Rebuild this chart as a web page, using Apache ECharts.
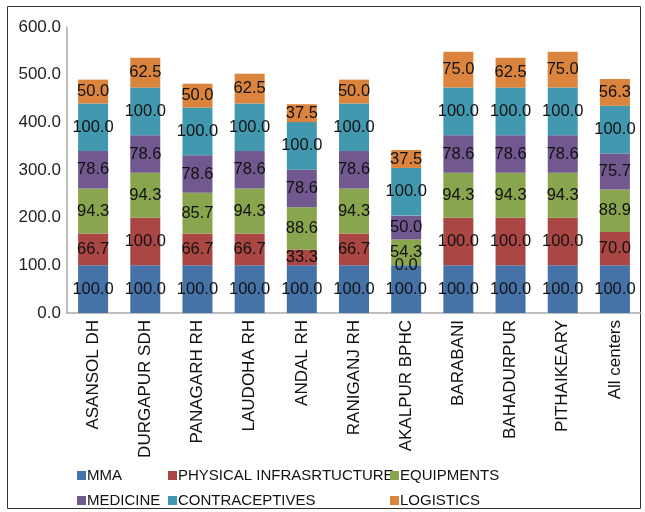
<!DOCTYPE html>
<html><head><meta charset="utf-8">
<script src="https://cdn.jsdelivr.net/npm/echarts@6/dist/echarts.min.js"></script>
<style>html,body{margin:0;padding:0;background:#fff}#c{width:645px;height:512px}</style>
</head><body><div id="c"></div>
<script>
const categories = ['ASANSOL DH','DURGAPUR SDH','PANAGARH RH','LAUDOHA RH','ANDAL RH','RANIGANJ RH','AKALPUR BPHC','BARABANI','BAHADURPUR','PITHAIKEARY','All centers'];
const mma = [100,100,100,100,100,100,100,100,100,100,100];
const physical = [66.7,100,66.7,66.7,33.3,66.7,0,100,100,100,70.0];
const equipments = [94.3,94.3,85.7,94.3,88.6,94.3,54.3,94.3,94.3,94.3,88.9];
const medicine = [78.6,78.6,78.6,78.6,78.6,78.6,50.0,78.6,78.6,78.6,75.7];
const contraceptives = [100,100,100,100,100,100,100,100,100,100,100];
const logistics = [50,62.5,50,62.5,37.5,50,37.5,75,62.5,75,56.3];
const yTicks = [0,100,200,300,400,500,600];

const names = ['MMA','PHYSICAL INFRASRTUCTURE','EQUIPMENTS','MEDICINE','CONTRACEPTIVES','LOGISTICS'];
const dataSets = [mma, physical, equipments, medicine, contraceptives, logistics];
const colors = ['#4572A7','#AA4643','#89A54E','#71588F','#4198AF','#DB843D'];
const font = 'Liberation Sans, Arial, sans-serif';
const legendPos = [[72,463],[163,463],[385,463],[72,488],[163,488],[385,488]];

const chart = echarts.init(document.getElementById('c'));
chart.setOption({
  animation:false,
  color: colors,
  graphic:[{type:'rect', shape:{x:7.5,y:6.5,width:633,height:502}, style:{fill:'none', stroke:'#333', lineWidth:1}, silent:true}],
  grid:{left:67, right:4, top:27, bottom:199, containLabel:false},
  legend: names.map((n,i)=>({
    left:legendPos[i][0], top:legendPos[i][1], data:[n], itemWidth:9, itemHeight:9, icon:'rect',
    textStyle:{fontFamily:font, fontSize:15, color:'#111', padding:[0,0,0,-4]}
  })),
  xAxis:{type:'category', data:categories,
    axisLine:{lineStyle:{color:'#aaa', width:1.5}}, axisTick:{show:false},
    axisLabel:{rotate:90, interval:0, margin:7, fontFamily:font, fontSize:17, color:'#111'}},
  yAxis:{type:'value', min:yTicks[0], max:yTicks[yTicks.length-1], interval:100,
    axisLine:{show:true, lineStyle:{color:'#aaa', width:1.5}}, axisTick:{show:false}, splitLine:{show:false},
    axisLabel:{fontFamily:font, fontSize:17, color:'#222', margin:6, formatter:v=>v.toFixed(1)}},
  series: names.map((n,i)=>({
    name:n, type:'bar', stack:'total', barWidth:30, data:dataSets[i],
    itemStyle:{color:colors[i]},
    label:{show:true, position:'inside', fontFamily:font, fontSize:16.5, color:'#111',
      formatter:p=>Number(p.value).toFixed(1)}
  }))
});
</script></body></html>
